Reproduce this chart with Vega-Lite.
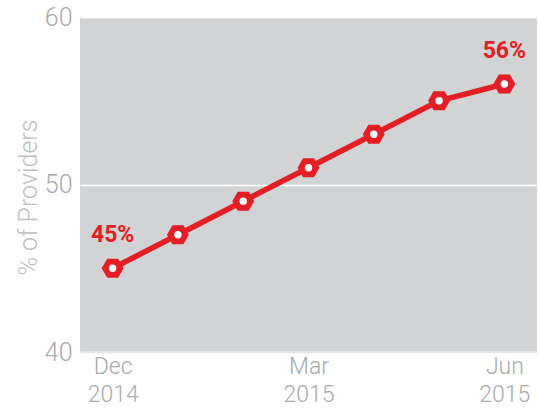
{
  "$schema": "https://vega.github.io/schema/vega-lite/v6.json",
  "width": 457,
  "height": 335,
  "autosize": {"type": "none"},
  "padding": {"left": 80, "top": 17, "right": 1, "bottom": 57},
  "background": "white",
  "config": {
    "view": {"fill": "#d1d3d4", "stroke": null},
    "font": "Roboto"
  },
  "data": {
    "values": [
      {"month": "Dec 2014", "value": 45, "label": "45%"},
      {"month": "Jan 2015", "value": 47, "label": ""},
      {"month": "Feb 2015", "value": 49, "label": ""},
      {"month": "Mar 2015", "value": 51, "label": ""},
      {"month": "Apr 2015", "value": 53, "label": ""},
      {"month": "May 2015", "value": 55, "label": ""},
      {"month": "Jun 2015", "value": 56, "label": "56%"}
    ]
  },
  "encoding": {
    "x": {
      "field": "month",
      "type": "ordinal",
      "sort": null,
      "scale": {"type": "point", "padding": 0.5},
      "axis": {
        "title": null,
        "labelAngle": 0,
        "ticks": false,
        "grid": false,
        "domain": true,
        "domainColor": "#e6e6e6",
        "domainWidth": 1.5,
        "labelFont": "Roboto",
        "labelFontWeight": 300,
        "labelFontSize": 23,
        "labelColor": "#a7a9ac",
        "labelPadding": 3,
        "labelLineHeight": 28,
        "labelExpr": "indexof(['Dec 2014','Mar 2015','Jun 2015'], datum.value) >= 0 ? split(datum.value, ' ') : ''"
      }
    },
    "y": {
      "field": "value",
      "type": "quantitative",
      "scale": {"domain": [40, 60], "nice": false, "zero": false},
      "axis": {
        "title": "% of Providers",
        "titleFont": "Roboto",
        "titleFontWeight": 300,
        "titleFontSize": 25,
        "titleColor": "#bcbec0",
        "titlePadding": 3,
        "titleY": 180,
        "titleAlign": "center",
        "values": [40, 50, 60],
        "ticks": false,
        "domain": false,
        "grid": true,
        "gridColor": "white",
        "gridWidth": 1.5,
        "labelFont": "Roboto",
        "labelFontWeight": 300,
        "labelFontSize": 25,
        "labelColor": "#a7a9ac",
        "labelPadding": 8
      }
    }
  },
  "layer": [
    {"mark": {"type": "line", "color": "#e31e24", "strokeWidth": 5.5}},
    {
      "mark": {
        "type": "point",
        "shape": "M-1,0L-0.5,-0.87L0.5,-0.87L1,0L0.5,0.87L-0.5,0.87Z",
        "filled": true,
        "color": "#e31e24",
        "opacity": 1,
        "size": 480
      }
    },
    {
      "mark": {"type": "circle", "color": "white", "opacity": 1, "size": 55}
    },
    {
      "transform": [{"filter": "datum.label != ''"}],
      "mark": {
        "type": "text",
        "color": "#e31e24",
        "font": "Roboto",
        "fontWeight": "bold",
        "fontSize": 23,
        "dy": -33,
        "baseline": "middle"
      },
      "encoding": {"text": {"field": "label"}}
    }
  ]
}
